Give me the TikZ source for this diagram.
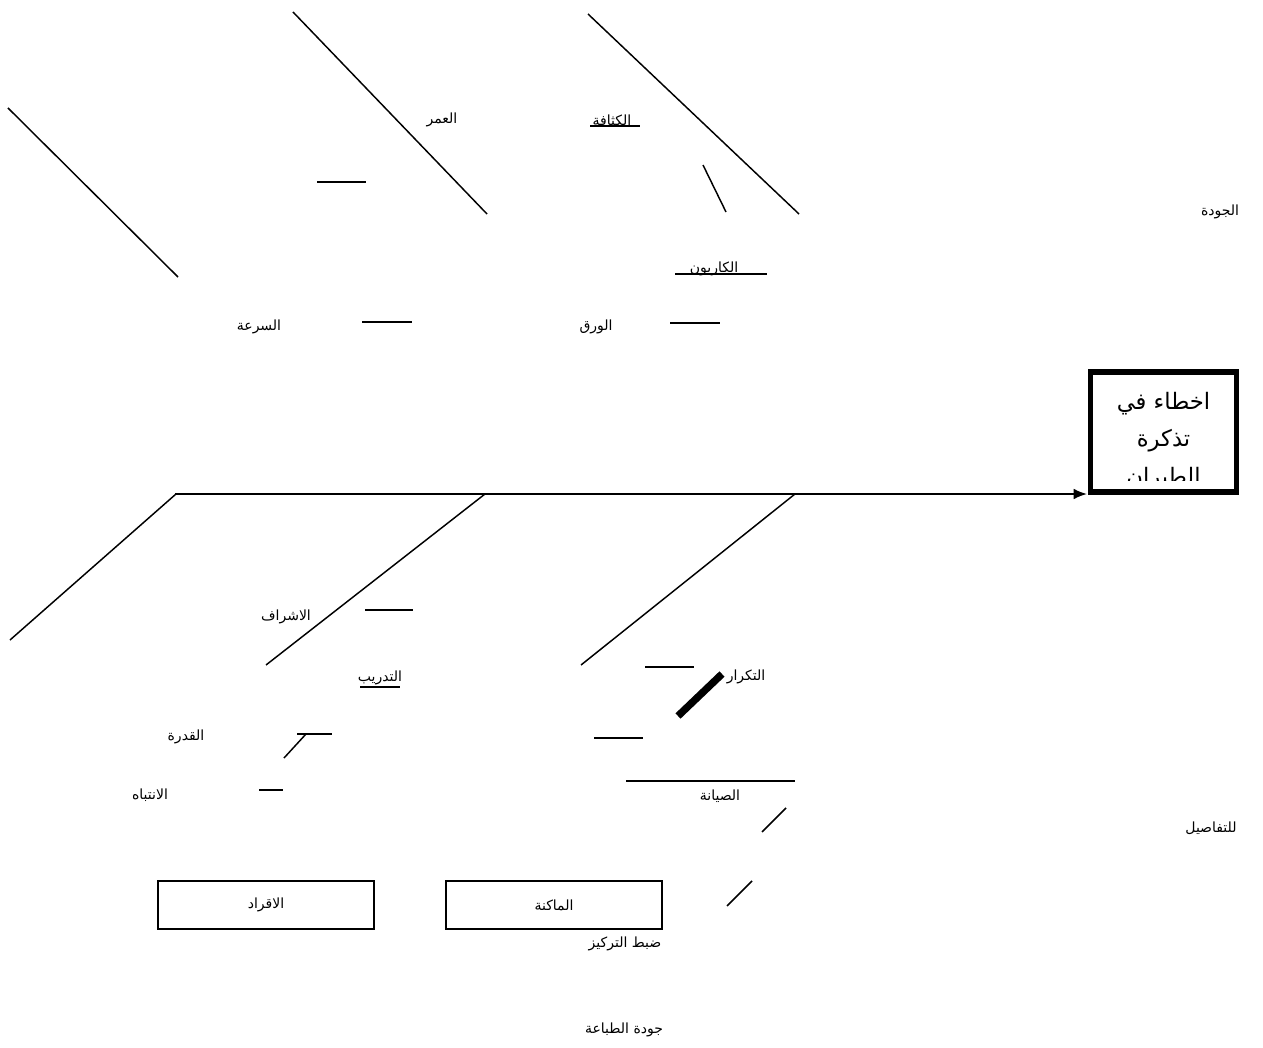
\documentclass[tikz,border=0pt]{standalone}
\usepackage{fontspec}
\usetikzlibrary{arrows.meta}
\newfontfamily\arabicfont[Script=Arabic]{DejaVu Sans}
\TeXXeTstate=1
\newcommand{\ar}[1]{\arabicfont\beginR #1\endR}
\begin{document}
\begin{tikzpicture}[x=0.75pt,y=-0.75pt,
  bone/.style={line width=1.1pt},
  tick/.style={line width=1.1pt},
  lbl/.style={inner sep=0pt,font=\fontsize{10.5}{12}\selectfont},
  catbox/.style={draw,line width=1.1pt,minimum width=162pt,minimum height=36pt,inner sep=0pt,font=\fontsize{10.5}{12}\selectfont}]
\useasboundingbox (0,0) rectangle (1263,1048);
% top bones
\draw[bone] (8,108) -- (178,277);
\draw[bone] (293,12) -- (487,214);
\draw[bone] (588,14) -- (799,214);
\draw[tick] (703,165) -- (726,212);
\draw[tick] (317,182) -- (366,182);
\draw[tick] (362,322) -- (412,322);
\draw[tick] (670,323) -- (720,323);
\draw[tick] (590,126) -- (640,126);
\draw[tick] (675,274) -- (767,274);
% main spine
\coordinate (tail) at (175,494);
\node[draw,line width=3.8pt,minimum width=110pt,minimum height=90pt,inner sep=0pt] (effect) at (1163.5,432) {};
\draw[line width=1.3pt,-{Latex[length=10pt,width=8pt]}] (tail) -- (1087,494);
\begin{scope}
\clip (1093,375) rectangle (1234,480);
\node[font=\fontsize{17}{28}\selectfont,align=center,inner sep=0pt,anchor=north] at (1163.5,392) {\ar{اخطاء في}\\\ar{تذكرة}\\\ar{الطيران}};
\end{scope}
% bottom bones
\draw[bone] (176,494) -- (10,640);
\draw[bone] (485,494) -- (266,665);
\draw[bone] (795,494) -- (581,665);
\draw[tick] (365,610) -- (413,610);
\draw[tick] (360,687) -- (400,687);
\draw[tick] (645,667) -- (694,667);
\draw[line width=5.5pt] (678,716) -- (722,674);
\draw[tick] (594,738) -- (643,738);
\draw[tick] (626,781) -- (795,781);
\draw[tick] (297,734) -- (332,734);
\draw[tick] (284,758) -- (306,734);
\draw[tick] (259,790) -- (283,790);
\draw[tick] (762,832) -- (786,808);
\draw[tick] (727,906) -- (752,881);
% labels
\node[lbl] (l1) at (442,120) {\ar{العمر}};
\node[lbl] (l2) at (612,120) {\ar{الكثافة}};
\node[lbl] (l3) at (1220,212) {\ar{الجودة}};
\node[lbl] (l4) at (714,269) {\ar{الكاربون}};
\node[lbl] (l5) at (259,327) {\ar{السرعة}};
\node[lbl] (l6) at (596,327) {\ar{الورق}};
\node[lbl] (l7) at (286,617) {\ar{الاشراف}};
\node[lbl] (l8) at (380,678) {\ar{التدريب}};
\node[lbl] (l9) at (746,677) {\ar{التكرار}};
\node[lbl] (l10) at (186,737) {\ar{القدرة}};
\node[lbl] (l11) at (150,795) {\ar{الانتباه}};
\node[lbl] (l12) at (720,796) {\ar{الصيانة}};
\node[lbl] (l13) at (1211,828) {\ar{للتفاصيل}};
\node[lbl] (l14) at (625,944) {\ar{ضبط التركيز}};
\node[lbl] (l15) at (624,1030) {\ar{جودة الطباعة}};
\node[catbox] (c1) at (266,905) {\ar{الاقراد}};
\node[catbox] (c2) at (554,905) {\ar{الماكنة}};
\end{tikzpicture}
\end{document}
